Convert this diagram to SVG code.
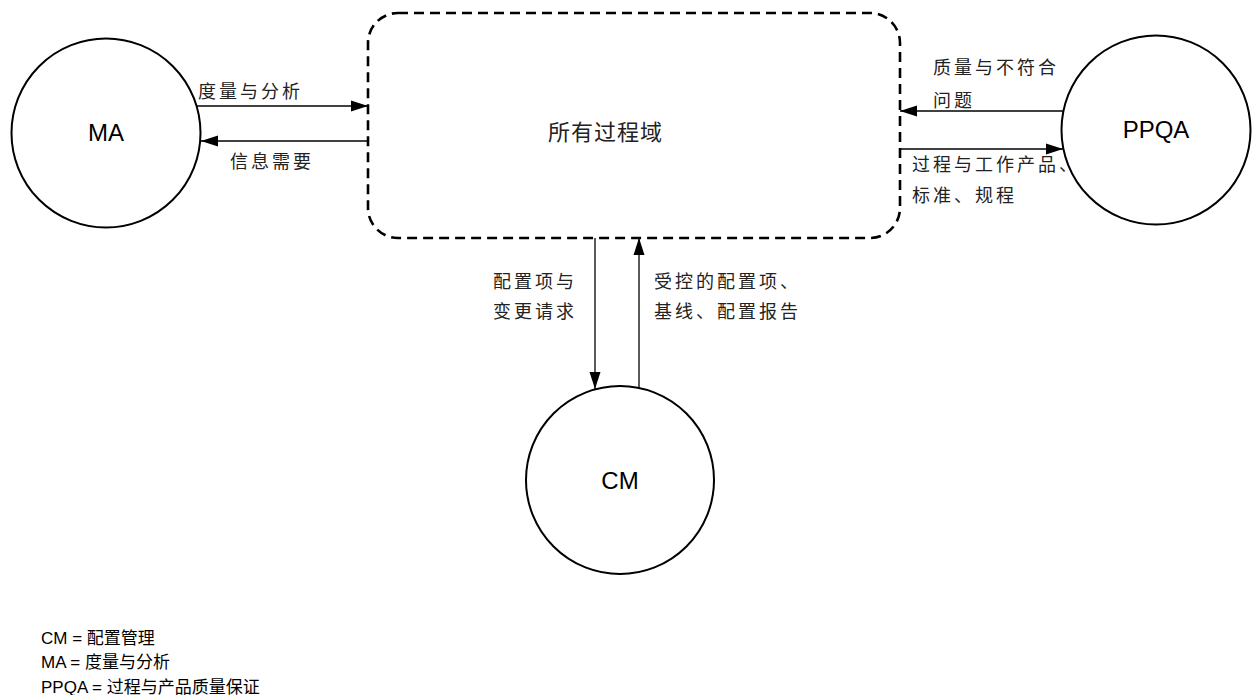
<svg xmlns="http://www.w3.org/2000/svg" width="1252" height="695" viewBox="0 0 1252 695">
<style>
.node{fill:#fff;stroke:#000;stroke-width:2}
.nlabel{font-family:"Liberation Sans",Arial,sans-serif;font-size:24px;fill:#000;text-anchor:middle}
.cn{font-family:"Noto Sans CJK SC","Liberation Sans",sans-serif;font-size:18px;letter-spacing:3px;fill:#222}
.conn{stroke:#000;stroke-width:1.3;fill:none;marker-end:url(#arr)}
.legend{font-family:"Liberation Sans","Noto Sans CJK SC",sans-serif;font-size:17px;fill:#000}
</style>
<defs>
<marker id="arr" markerUnits="userSpaceOnUse" markerWidth="18" markerHeight="12" refX="17" refY="6" orient="auto">
<path d="M0,0.5 L17,6 L0,11.5 Z" fill="#000"/>
</marker>
</defs>
<rect width="1252" height="695" fill="#fff"/>
<g id="all-process-areas">
<rect x="368" y="13" width="532" height="225" rx="30" ry="30" fill="none" stroke="#000" stroke-width="2.6" stroke-dasharray="10 6"/>
<text class="cn" x="548" y="140" style="font-size:22px;letter-spacing:1px">所有过程域</text>
</g>
<g id="MA">
<circle class="node" cx="106" cy="133" r="94.5"/>
<text class="nlabel" x="106" y="141">MA</text>
</g>
<g id="PPQA">
<circle class="node" cx="1156" cy="130" r="94.5"/>
<text class="nlabel" x="1156" y="138">PPQA</text>
</g>
<g id="CM">
<circle class="node" cx="620" cy="480" r="94"/>
<text class="nlabel" x="620" y="489">CM</text>
</g>
<g id="connectors">
<line class="conn" x1="197" y1="106" x2="368" y2="106"/>
<line class="conn" x1="368" y1="141" x2="201" y2="141"/>
<line class="conn" x1="1063" y1="111" x2="900" y2="111"/>
<line class="conn" x1="900" y1="149" x2="1063" y2="149"/>
<line class="conn" x1="595" y1="238" x2="595" y2="389"/>
<line class="conn" x1="639" y1="388" x2="639" y2="238"/>
</g>
<g id="labels">
<text class="cn" x="198" y="98">度量与分析</text>
<text class="cn" x="230" y="168">信息需要</text>
<text class="cn" x="933" y="74">质量与不符合</text>
<text class="cn" x="933" y="107">问题</text>
<text class="cn" x="912" y="171">过程与工作产品、</text>
<text class="cn" x="912" y="202">标准、规程</text>
<text class="cn" x="493" y="288">配置项与</text>
<text class="cn" x="493" y="318">变更请求</text>
<text class="cn" x="654" y="288">受控的配置项、</text>
<text class="cn" x="654" y="318">基线、配置报告</text>
</g>
<g id="legend">
<text class="legend" x="41" y="644">CM = 配置管理</text>
<text class="legend" x="41" y="668">MA = 度量与分析</text>
<text class="legend" x="41" y="693">PPQA = 过程与产品质量保证</text>
</g>
</svg>
